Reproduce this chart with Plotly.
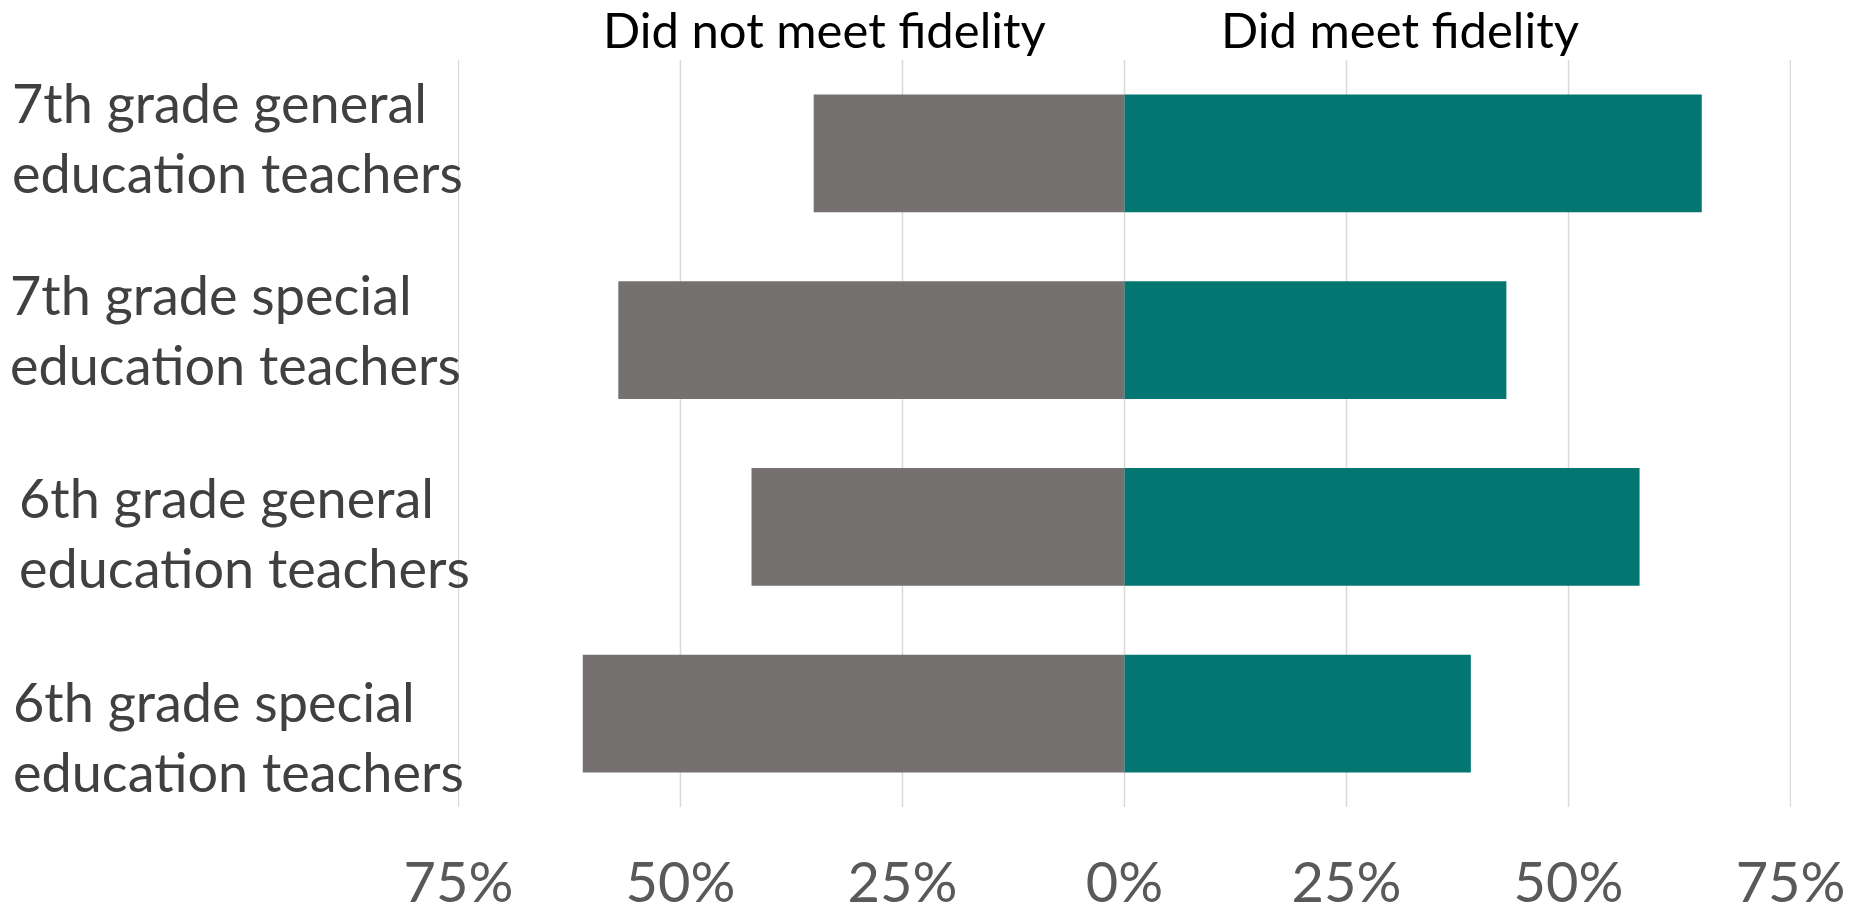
import plotly.graph_objects as go

categories = [
    "7th grade general<br>education teachers",
    "7th grade special<br>education teachers",
    "6th grade general<br>education teachers",
    "6th grade special<br>education teachers",
]
did_not_meet = [35, 57, 42, 61]   # percent
did_meet = [65, 43, 58, 39]       # percent
tick_values = [-75, -50, -25, 0, 25, 50, 75]
tick_labels = ["75%", "50%", "25%", "0%", "25%", "50%", "75%"]
series_names = ["Did not meet fidelity", "Did meet fidelity"]

GRAY = "#767171"
TEAL = "#037671"
GRID = "#d9d9d9"
FONT = "Lato"

fig = go.Figure()
fig.add_trace(go.Bar(
    y=categories, x=[-v for v in did_not_meet], orientation="h",
    name=series_names[0], marker=dict(color=GRAY, line=dict(width=0)),
))
fig.add_trace(go.Bar(
    y=categories, x=did_meet, orientation="h",
    name=series_names[1], marker=dict(color=TEAL, line=dict(width=0)),
))

# vertical gridlines at every tick (including the ±75% edges)
for tv in tick_values:
    fig.add_vline(x=tv, line=dict(color=GRID, width=1.5), layer="below")

# category labels (left aligned, as in the original text boxes)
label_x = [-0.3363, -0.3373, -0.3308, -0.3353]   # paper units, relative to plot left edge
label_shift = [16, 11, -6, -23]
for cat, lx, ys in zip(categories, label_x, label_shift):
    fig.add_annotation(
        x=lx, xref="paper", y=cat, yref="y", xanchor="left", yanchor="middle",
        yshift=ys, text=cat, align="left", showarrow=False,
        font=dict(family=FONT, size=54, color="#404040"),
    )

# series headers
header_x = [-33.8, 31.0]
for name, hx in zip(series_names, header_x):
    fig.add_annotation(
        x=hx, xref="x", y=1, yref="paper", xanchor="center", yanchor="bottom",
        yshift=0, text=name, showarrow=False,
        font=dict(family=FONT, size=49, color="#000000"),
    )

fig.update_layout(
    width=1852, height=915,
    margin=dict(l=458, r=61, t=60, b=108, pad=0, autoexpand=False),
    barmode="relative", bargap=0.37,
    showlegend=False,
    plot_bgcolor="white", paper_bgcolor="white",
    font=dict(family=FONT),
    xaxis=dict(
        range=[-75.05, 75.05], tickvals=tick_values, ticktext=tick_labels,
        showgrid=False, zeroline=False, showline=False, automargin=False,
        ticks="outside", ticklen=0, ticklabelstandoff=27,
        tickfont=dict(family=FONT, size=56, color="#595959"),
    ),
    yaxis=dict(
        type="category", categoryorder="array", categoryarray=categories,
        range=[len(categories) - 0.5, -0.5],
        showticklabels=False, showgrid=False, zeroline=False, showline=False,
        automargin=False,
    ),
)

fig.write_html("out.html", config={"displayModeBar": False},
               post_script="document.body.style.margin='0px';")
